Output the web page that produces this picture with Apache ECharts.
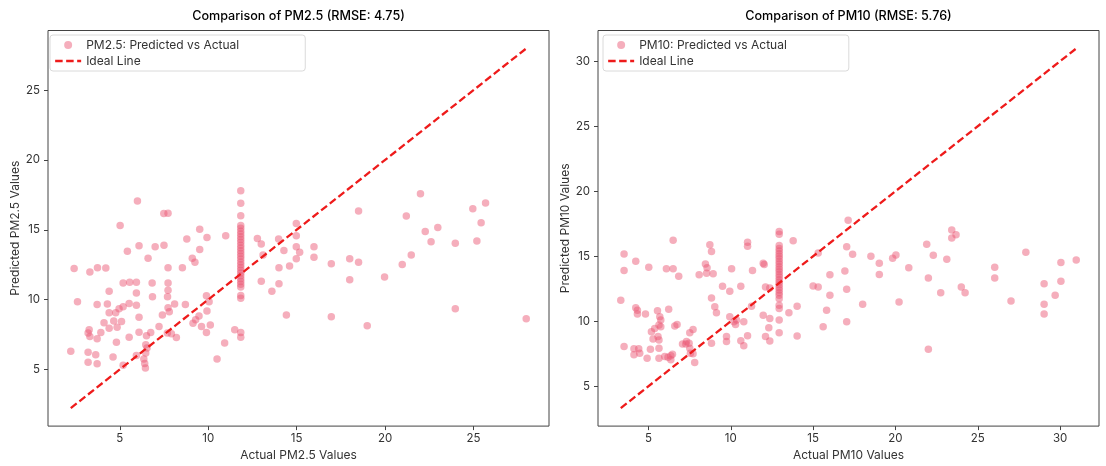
<!DOCTYPE html>
<html>
<head>
<meta charset="utf-8">
<script src="https://cdn.jsdelivr.net/npm/echarts@6/dist/echarts.min.js"></script>
<style>
html,body{margin:0;padding:0;background:#fff;}
#chart{width:1106px;height:466px;}
</style>
</head>
<body>
<div id="chart"></div>
<script>
// ---- PM2.5 data (actual, predicted) ----
const pm25Actual = [
  2.23,2.42,2.61,3.21,3.27,3.31,3.72,3.93,3.21,3.64,3.21,3.72,3.31,3.74,4.21,
  3.72,4.11,4.30,4.40,4.40,4.40,4.66,4.77,4.85,4.81,4.62,4.96,5.10,5.19,5.02,
  5.19,5.43,5.53,5.53,5.56,5.94,5.94,5.94,5.19,5.94,6.00,6.09,6.09,6.09,
  6.47,6.54,6.47,6.36,6.41,6.45,6.51,6.75,6.60,6.83,6.85,7.00,7.22,7.49,7.73,
  7.50,7.73,7.73,7.73,7.70,7.73,7.80,7.41,7.69,7.92,8.20,8.10,8.54,8.71,8.79,
  9.10,9.25,9.52,9.52,9.93,9.14,9.29,9.48,9.62,9.93,9.90,10.12,9.90,10.05,
  10.50,10.93,10.99,11.50,
  11.84,11.84,11.84,11.84,11.84,11.84,11.84,11.84,11.84,11.84,11.84,11.84,11.84,11.84,11.84,
  11.84,11.84,11.84,11.84,11.84,11.84,11.84,11.84,11.84,11.84,11.84,11.84,11.84,11.84,11.84,
  12.78,13.00,13.10,13.00,13.60,13.98,14.28,14.00,14.00,14.42,14.60,14.98,14.98,14.98,15.17,
  14.98,15.98,15.98,16.96,16.96,18.00,18.00,18.50,18.50,18.99,19.97,20.97,21.48,21.20,22.00,
  22.27,22.98,22.60,23.97,23.97,24.96,25.68,25.43,25.19,27.98
];
const pm25Pred = [
  6.30,12.23,9.84,7.60,7.84,7.36,7.20,7.65,6.23,6.06,5.52,5.40,11.97,12.28,12.26,
  9.65,8.35,9.68,10.60,9.06,7.95,8.47,9.06,8.02,6.94,5.89,9.35,8.43,9.49,15.30,
  11.19,13.46,7.31,9.72,11.24,11.24,10.48,9.60,5.30,5.99,17.06,13.86,8.73,7.67,
  6.77,6.53,6.18,5.75,5.43,5.11,7.41,7.65,12.96,11.19,10.20,13.79,8.07,16.16,16.18,
  13.89,12.28,11.19,10.67,10.20,9.42,9.13,8.90,7.60,7.55,7.29,9.68,12.28,9.65,14.34,
  12.96,12.68,13.58,15.04,14.45,8.31,8.55,8.83,8.07,9.18,7.65,8.19,10.27,9.84,
  5.75,6.89,14.57,7.84,
  17.8,16.9,16.0,15.3,15.1,14.9,14.7,14.5,14.3,14.1,13.9,13.7,13.5,13.3,13.1,
  12.9,12.7,12.5,12.3,12.1,11.9,11.7,11.5,11.3,11.1,10.9,10.3,10.1,7.65,7.31,
  14.38,13.98,13.20,11.31,10.60,14.34,13.51,12.28,11.14,8.90,12.40,15.45,14.57,13.79,13.39,
  12.92,13.79,13.04,12.56,8.78,12.92,11.43,12.68,16.35,8.12,11.62,12.52,13.20,15.99,17.57,
  14.88,15.16,14.15,14.03,9.35,16.51,16.91,15.50,14.19,8.62
];

// ---- PM10 data (actual, predicted) ----
const pm10Actual = [
  3.32,3.52,3.52,3.52,4.23,4.23,4.33,4.33,4.82,4.12,4.41,4.12,4.47,4.92,5.02,5.12,
  5.18,5.38,5.28,5.58,5.64,5.64,5.69,5.75,5.55,5.75,5.64,5.64,
  6.09,6.50,6.50,6.23,5.99,6.19,6.36,6.36,6.46,6.60,6.74,6.84,
  7.07,7.27,7.31,7.47,7.51,7.55,7.71,7.51,7.71,7.81,8.08,8.46,8.56,8.53,8.93,8.73,8.83,
  8.83,9.03,9.13,8.83,9.50,9.94,10.05,9.74,9.74,9.94,10.19,10.29,10.35,10.79,10.61,10.61,10.79,
  11.02,11.02,11.32,11.02,11.26,11.97,12.03,12.11,12.37,11.97,12.37,12.11,12.31,12.37,
  12.94,12.94,12.94,12.94,12.94,12.94,12.94,12.94,12.94,12.94,12.94,12.94,12.94,12.94,
  12.94,12.94,12.94,12.94,12.94,12.94,12.94,12.94,12.94,12.94,12.94,12.94,12.94,
  13.53,13.79,14.03,14.03,15.00,15.31,15.31,15.61,15.82,16.02,16.02,16.93,17.04,17.04,17.04,
  17.13,17.40,18.01,18.51,19.02,19.02,19.83,20.03,20.22,20.81,21.90,22.00,22.00,22.30,22.75,
  23.12,23.42,23.68,23.42,24.00,24.23,26.03,26.03,27.02,27.92,29.03,29.03,29.03,29.70,30.05,
  30.05,30.98
];
const pm10Pred = [
  11.62,15.18,13.91,8.05,14.62,11.03,10.85,10.55,10.55,7.88,7.88,7.42,7.54,7.16,14.16,7.85,
  9.20,9.45,8.64,8.82,8.56,9.71,10.34,10.09,10.80,9.58,7.92,7.16,
  14.03,14.03,16.24,10.93,7.29,7.24,7.34,7.04,7.47,9.63,9.76,13.47,
  8.26,8.26,8.44,8.31,7.92,7.54,7.50,9.12,9.37,6.83,13.57,14.41,14.11,13.70,13.65,15.89,15.36,
  11.79,11.11,10.65,8.31,12.69,12.31,14.03,8.82,8.44,10.34,9.96,9.76,10.09,9.96,12.69,8.51,8.11,
  16.07,15.76,13.91,8.89,11.16,14.47,14.37,12.63,12.56,10.47,10.21,8.82,9.50,8.49,
  16.91,16.70,15.82,15.60,15.40,15.20,15.00,14.80,14.60,14.40,14.20,14.00,13.80,13.60,
  13.40,13.20,13.00,12.80,12.60,12.40,12.20,12.00,11.74,11.24,10.98,10.09,9.12,
  10.65,16.20,11.16,8.87,12.71,12.63,15.25,9.58,10.85,13.57,12.00,13.86,12.46,15.74,9.96,
  17.77,15.15,11.31,15.00,14.47,13.60,14.85,15.10,11.49,14.11,15.92,13.32,7.85,15.08,12.20,
  14.77,17.01,16.66,16.40,12.63,12.20,14.16,13.32,11.56,15.31,12.89,11.31,10.55,12.00,14.52,
  13.07,14.72
];

const tickValues25 = [5, 10, 15, 20, 25];
const tickValues10 = [5, 10, 15, 20, 25, 30];

const titles = ['Comparison of PM2.5 (RMSE: 4.75)', 'Comparison of PM10 (RMSE: 5.76)'];
const scatterNames = ['PM2.5: Predicted vs Actual', 'PM10: Predicted vs Actual'];
const xNames = ['Actual PM2.5 Values', 'Actual PM10 Values'];
const yNames = ['Predicted PM2.5 Values', 'Predicted PM10 Values'];

function zip(a, b) { return a.map((v, i) => [v, b[i]]); }
function range(actual, pred) {
  const lo = Math.min(...actual), hi = Math.max(...actual);
  const all = actual.concat(pred, [lo, hi]);
  const mn = Math.min(...all), mx = Math.max(...all);
  const pad = (mx - mn) * 0.05;
  return { lo, hi, min: mn - pad, max: mx + pad };
}
const r25 = range(pm25Actual, pm25Pred);
const r10 = range(pm10Actual, pm10Pred);

const FONT = 'Inter';
const axisCommon = (idx, name, r, ticks, isX) => ({
  type: 'value',
  gridIndex: idx,
  min: r.min, max: r.max,
  name: name,
  nameLocation: 'middle',
  nameGap: isX ? 20 : 25,
  nameTextStyle: { fontFamily: FONT, fontSize: 12, color: '#333' },
  axisLine: { show: false },
  axisTick: { show: true, inside: false, length: 4, customValues: ticks, lineStyle: { color: '#444', width: 1 } },
  axisLabel: { customValues: ticks, fontFamily: FONT, fontSize: 11.5, color: '#333', margin: isX ? 6 : 8 },
  splitLine: { show: false }
});

const grids = [
  { left: 48, top: 30.5, width: 501, height: 400.5 },
  { left: 598, top: 30.5, width: 501, height: 400.5 }
];

const scatterStyle = { color: '#eb5673', opacity: 0.48 };
const lineStyle = { color: '#ee1b1b', width: 2.3, type: [7.5, 3.5] };

const option = {
  backgroundColor: '#fff',
  animation: false,
  title: titles.map((t, i) => ({
    text: t,
    left: grids[i].left + grids[i].width / 2,
    textAlign: 'center',
    top: 10,
    padding: 0,
    textStyle: { fontFamily: FONT, fontSize: 12.6, fontWeight: 500, color: '#000' }
  })),
  legend: [0, 1].map(i => ({
    orient: 'vertical',
    left: grids[i].left + (i === 0 ? 2 : 5),
    top: 35,
    padding: [4, i === 0 ? 66 : 62, 4, 4],
    itemWidth: 26,
    itemHeight: 8,
    itemGap: 4,
    borderColor: '#dadada',
    borderWidth: 1,
    borderRadius: 3,
    backgroundColor: '#fff',
    textStyle: { fontFamily: FONT, fontSize: 12, color: '#333' },
    data: [
      { name: scatterNames[i], icon: 'circle' },
      { name: 'Ideal Line', itemStyle: { opacity: 0 }, lineStyle: lineStyle }
    ]
  })),
  grid: grids.map(g => Object.assign({ show: true, borderColor: '#444', borderWidth: 1, backgroundColor: 'transparent' }, g)),
  xAxis: [axisCommon(0, xNames[0], r25, tickValues25, true), axisCommon(1, xNames[1], r10, tickValues10, true)],
  yAxis: [axisCommon(0, yNames[0], r25, tickValues25, false), axisCommon(1, yNames[1], r10, tickValues10, false)],
  series: [
    { name: scatterNames[0], type: 'scatter', xAxisIndex: 0, yAxisIndex: 0, symbolSize: 7.5,
      itemStyle: scatterStyle, data: zip(pm25Actual, pm25Pred) },
    { name: 'Ideal Line', type: 'line', xAxisIndex: 0, yAxisIndex: 0, symbol: 'none', z: 5,
      lineStyle: lineStyle, itemStyle: { color: lineStyle.color },
      data: [[r25.lo, r25.lo], [r25.hi, r25.hi]] },
    { name: scatterNames[1], type: 'scatter', xAxisIndex: 1, yAxisIndex: 1, symbolSize: 7.5,
      itemStyle: scatterStyle, data: zip(pm10Actual, pm10Pred) },
    { name: 'Ideal Line', type: 'line', xAxisIndex: 1, yAxisIndex: 1, symbol: 'none', z: 5,
      lineStyle: lineStyle, itemStyle: { color: lineStyle.color },
      data: [[r10.lo, r10.lo], [r10.hi, r10.hi]] }
  ]
};

const chart = echarts.init(document.getElementById('chart'), null, { renderer: 'canvas' });
chart.setOption(option);
</script>
</body>
</html>
